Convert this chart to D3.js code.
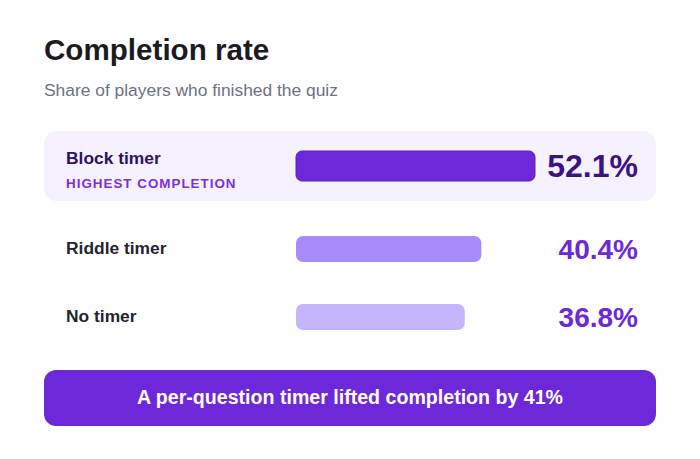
<!DOCTYPE html>
<html>
<head>
<meta charset="utf-8">
<script src="https://cdn.jsdelivr.net/npm/d3@7"></script>
<style>
  html, body { margin: 0; padding: 0; background: #ffffff; }
  svg { display: block; }
</style>
</head>
<body>
<svg id="chart" width="700" height="459"></svg>
<script>
const categories = ["Block timer", "Riddle timer", "No timer"];
const values = [52.1, 40.4, 36.8];
const badges = ["HIGHEST COMPLETION", "", ""];
const title = "Completion rate";
const subtitle = "Share of players who finished the quiz";
const banner = "A per-question timer lifted completion by 41%";

const svg = d3.select("#chart");
const W = 700;
const FONT = "Liberation Sans, Arial, sans-serif";

svg.append("text").attr("x", 44).attr("y", 60)
  .attr("font-family", FONT)
  .attr("font-size", 29.6).attr("font-weight", 700).attr("fill", "#1b1b22")
  .text(title);

svg.append("text").attr("x", 44).attr("y", 96)
  .attr("font-family", FONT)
  .attr("font-size", 17.4).attr("fill", "#6b7280")
  .text(subtitle);

const rowY = d3.scaleOrdinal().domain(categories).range([166, 249, 317]);
const x = d3.scaleLinear().domain([0, d3.max(values)]).range([296, 535]);

const barColors = ["#6d28d9", "#a78bfa", "#c4b5fd"];

// highlight background for top row
svg.append("rect").attr("x", 44).attr("y", 131).attr("width", 612).attr("height", 70)
  .attr("rx", 13).attr("fill", "#f5f1fe");

const rows = svg.selectAll("g.row").data(categories).join("g").attr("class", "row");

rows.each(function(c, i) {
  const g = d3.select(this);
  const cy = rowY(c);
  const top = i === 0;
  const h = top ? 30 : 26;
  g.append("rect")
    .attr("x", x(0)).attr("y", cy - h / 2)
    .attr("width", x(values[i]) - x(0)).attr("height", h)
    .attr("rx", top ? 6 : 7)
    .attr("fill", barColors[i])
    .attr("stroke", top ? "#5b21b6" : "none").attr("stroke-width", top ? 1 : 0);

  g.append("text")
    .attr("x", 66).attr("y", top ? 163.5 : cy + 4.5)
    .attr("font-family", FONT)
    .attr("font-size", 17.4).attr("font-weight", 700)
    .attr("fill", top ? "#2e1065" : "#1f2430")
    .text(c);

  if (badges[i]) {
    g.append("text")
      .attr("x", 66).attr("y", 188)
      .attr("font-family", FONT)
      .attr("font-size", 13.4).attr("font-weight", 700)
      .attr("letter-spacing", 1)
      .attr("fill", "#7c2fdc")
      .text(badges[i]);
  }

  g.append("text")
    .attr("x", 638).attr("y", top ? cy + 11 : cy + 10)
    .attr("text-anchor", "end")
    .attr("font-family", FONT)
    .attr("font-size", top ? 32 : 28).attr("font-weight", 700)
    .attr("fill", top ? "#3b1381" : "#6d28d9")
    .text(d3.format(".1f")(values[i]) + "%");
});

svg.append("rect").attr("x", 44).attr("y", 370).attr("width", 612).attr("height", 56)
  .attr("rx", 12).attr("fill", "#6d28d9");

svg.append("text").attr("x", W / 2).attr("y", 404)
  .attr("text-anchor", "middle")
  .attr("font-family", FONT)
  .attr("font-size", 19.6).attr("font-weight", 700).attr("fill", "#ffffff")
  .text(banner);
</script>
</body>
</html>
